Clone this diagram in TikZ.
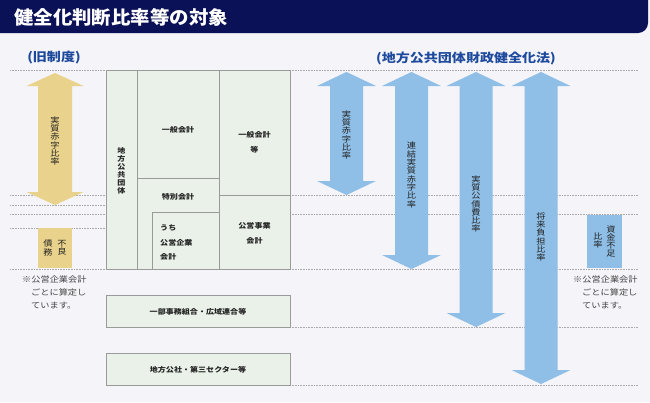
\documentclass[tikz,border=0pt]{standalone}
\usepackage{fontspec}
\setmainfont{Noto Sans CJK JP}[FakeStretch=1.15]
\newfontfamily\titlefont{Noto Sans CJK JP}[FakeStretch=1.05]
\definecolor{bgcol}{HTML}{F4F4F9}
\definecolor{navy}{HTML}{0B1157}
\definecolor{headblue}{HTML}{1E4A9E}
\definecolor{arrblue}{HTML}{8FBEE6}
\definecolor{arryellow}{HTML}{E9D28B}
\definecolor{boxfill}{HTML}{E9F1E9}
\definecolor{boxline}{HTML}{9A9A9A}
\definecolor{dotcol}{HTML}{AAAAAA}
\definecolor{txtdark}{HTML}{222222}
\definecolor{notecol}{HTML}{444444}
\newcommand{\dblarrow}[7]{%
  \fill[#1] (#2,#3) -- (#2+#5,#3+#7) -- (#2+#6,#3+#7) -- (#2+#6,#4-#7) -- (#2+#5,#4-#7)
    -- (#2,#4) -- (#2-#5,#4-#7) -- (#2-#6,#4-#7) -- (#2-#6,#3+#7) -- (#2-#5,#3+#7) -- cycle;}
\begin{document}
\begin{tikzpicture}[x=1pt,y=-1pt,
  dotline/.style={draw=dotcol,line width=0.8pt,dash pattern=on 0.8pt off 0.8pt},
  box/.style={draw=boxline,fill=boxfill,line width=1pt,inner sep=0pt},
  boxtxt/.style={font=\fontsize{7}{15}\selectfont\bfseries,text=txtdark,align=center,inner sep=0pt},
  vtxt/.style={font=\fontsize{8}{8.3}\selectfont,text=txtdark,align=center,inner sep=0pt},
  vbtxt/.style={font=\fontsize{7}{8}\selectfont\bfseries,text=txtdark,align=center,inner sep=0pt},
  notetxt/.style={font=\fontsize{8}{13}\selectfont,text=notecol,align=left,inner sep=0pt},
  heading/.style={font=\fontsize{12.2}{14}\selectfont\bfseries,text=headblue,inner sep=0pt}]
\useasboundingbox (0,0) rectangle (650,402);
\fill[bgcol] (0,0) rectangle (650,402);
% title bar
\fill[navy] (0,0) -- (648,0) -- (648,23) .. controls (648,28.5) and (643.5,33) .. (638,33) -- (0,33) -- cycle;
\node[anchor=west,text=white,inner sep=0pt,font=\titlefont\fontsize{18.5}{20}\selectfont\bfseries] (title) at (14,17) {健全化判断比率等の対象};
% headings
\node[heading] (hold) at (54,58) {(旧制度)};
\node[heading] (hnew) at (466,58) {(地方公共団体財政健全化法)};
% dotted guide lines, left
\foreach \yy in {70,195,205,214,228,269} \draw[dotline] (10,\yy) -- (106,\yy);
% dotted guide lines, right
\foreach \yy in {70,195,214,269,327,385} \draw[dotline] (290,\yy) -- (638,\yy);
% boxes
\node[box,minimum width=31,minimum height=199] (dantai) at (121.5,169.5) {};
\node[box,minimum width=82,minimum height=108] (ippan) at (178,124) {};
\node[box,minimum width=82,minimum height=91] (toku) at (178,223.5) {};
\node[box,minimum width=67,minimum height=57] (uchi) at (185.5,240.5) {};
\node[box,minimum width=71,minimum height=125] (ippanto) at (254.5,132.5) {};
\node[box,minimum width=71,minimum height=74] (koei) at (254.5,232) {};
\node[box,minimum width=184,minimum height=32] (ichibu) at (198,311) {};
\node[box,minimum width=184,minimum height=32] (kosha) at (198,369) {};
% box texts
\node[vbtxt] (tdantai) at (121.5,171) {地\\方\\公\\共\\団\\体};
\node[boxtxt] (tippan) at (178,130) {一般会計};
\node[boxtxt] (tippanto) at (254.5,142.5) {一般会計\\等};
\node[boxtxt] (ttoku) at (178,197) {特別会計};
\node[boxtxt,align=left,anchor=west,font=\fontsize{7}{14.5}\selectfont\bfseries] (tuchi) at (160,242.5) {うち\\公営企業\\会計};
\node[boxtxt] (tkoei) at (254.5,233) {公営事業\\会計};
\node[boxtxt] (tichibu) at (198,312) {一部事務組合・広域連合等};
\node[boxtxt] (tkosha) at (198,370) {地方公社・第三セクター等};
% arrows
\dblarrow{arryellow}{55}{73}{205}{28.5}{17}{13}
\dblarrow{arrblue}{346.5}{72}{195}{29.5}{16.5}{14}
\dblarrow{arrblue}{411.5}{72}{269}{29.5}{16.5}{14}
\dblarrow{arrblue}{476}{72}{327}{29.5}{16.5}{14}
\dblarrow{arrblue}{541}{72}{384}{29.5}{16.5}{14}
% arrow texts
\node[vtxt] (ty1) at (55,141) {実\\質\\赤\\字\\比\\率};
\node[vtxt] (tb1) at (346.5,135) {実\\質\\赤\\字\\比\\率};
\node[vtxt] (tb2) at (411.5,175) {連\\結\\実\\質\\赤\\字\\比\\率};
\node[vtxt] (tb3) at (476,204) {実\\質\\公\\債\\費\\比\\率};
\node[vtxt] (tb4) at (541,237) {将\\来\\負\\担\\比\\率};
% small rectangles
\node[fill=arryellow,minimum width=34,minimum height=40,inner sep=0pt] (furyo) at (55,248) {};
\node[vtxt] (tfuryo1) at (62,248) {不\\良};
\node[vtxt] (tfuryo2) at (48,248) {債\\務};
\node[fill=arrblue,minimum width=35,minimum height=53,inner sep=0pt] (shikin) at (604.5,241.5) {};
\node[vtxt] (tshikin1) at (611,241.5) {資\\金\\不\\足};
\node[vtxt] (tshikin2) at (598,240.5) {比\\率};
% notes
\node[notetxt,anchor=north west] (noteL) at (22,276) {※公営企業会計\\\hspace*{9pt}ごとに算定し\\\hspace*{9pt}ています。};
\node[notetxt,anchor=north west] (noteR) at (573,276) {※公営企業会計\\\hspace*{9pt}ごとに算定し\\\hspace*{9pt}ています。};
\end{tikzpicture}
\end{document}
